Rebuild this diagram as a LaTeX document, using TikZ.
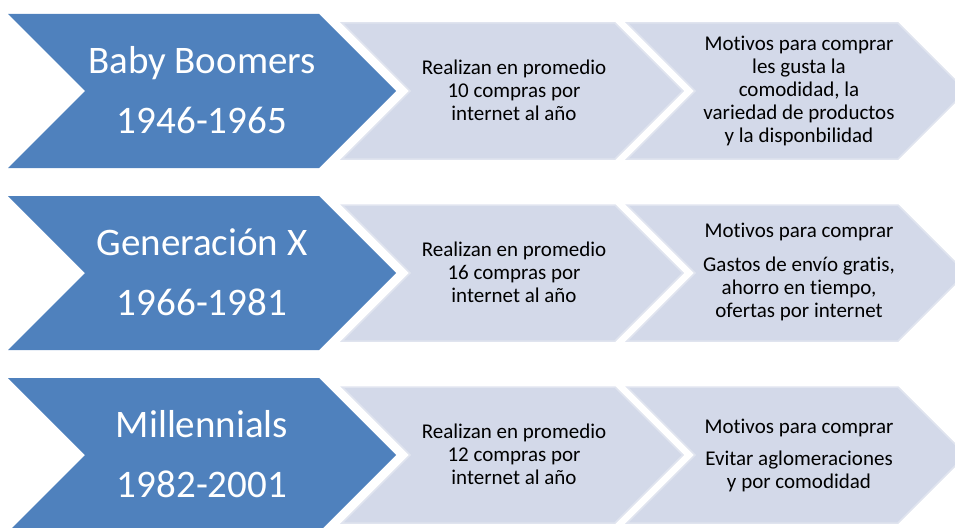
\documentclass[tikz,border=0pt]{standalone}
\usepackage{fontspec}
\setmainfont{Carlito}[Ligatures=NoCommon]
\definecolor{blueA}{HTML}{4F81BD}
\definecolor{lightA}{HTML}{D3D9E9}
\definecolor{lightB}{HTML}{E0E4EF}
\newcommand\drawchev[5]{\path[#5] (#1,#3-#4) -- (#2,#3-#4) -- (#2+#4,#3) -- (#2,#3+#4) -- (#1,#3+#4) -- (#1+#4,#3) -- cycle;}
\tikzset{
  genbox/.style={fill=blueA},
  infobox/.style={fill=lightA, draw=lightB, line width=1.5pt, line join=miter},
  gentext/.style={text=white, align=center, font=\fontsize{39}{60}\selectfont, inner sep=0pt},
  infotext/.style={text=black, align=center, font=\fontsize{21}{23}\selectfont, inner sep=0pt}
}
\begin{document}
\begin{tikzpicture}[x=1pt,y=-1pt]
\useasboundingbox (0,0) rectangle (955,527);
\clip (0,0) rectangle (955,527);
% row 1
\drawchev{8}{319}{91}{77}{genbox}
\drawchev{342}{615}{91}{68}{infobox}
\drawchev{627}{898}{91}{68}{infobox}
\node[gentext] (g1) at (202,90) {Baby Boomers\\1946-1965};
\node[infotext] (a1) at (514,90) {Realizan en promedio\\10 compras por\\internet al año};
\node[infotext] (b1) at (799,91) {Motivos para comprar\\les gusta la\\comodidad, la\\variedad de productos\\y la disponbilidad};
% row 2
\drawchev{8}{319}{273}{77}{genbox}
\drawchev{342}{615}{273}{68}{infobox}
\drawchev{627}{898}{273}{68}{infobox}
\node[gentext] (g2) at (202,272) {Generación X\\1966-1981};
\node[infotext] (a2) at (514,272) {Realizan en promedio\\16 compras por\\internet al año};
\node[infotext] (b2) at (799,272) {Motivos para comprar\\[11pt]Gastos de envío gratis,\\ahorro en tiempo,\\ofertas por internet};
% row 3
\drawchev{8}{319}{455}{77}{genbox}
\drawchev{342}{615}{455}{68}{infobox}
\drawchev{627}{898}{455}{68}{infobox}
\node[gentext] (g3) at (202,454) {Millennials\\1982-2001};
\node[infotext] (a3) at (514,454) {Realizan en promedio\\12 compras por\\internet al año};
\node[infotext] (b3) at (799,455) {Motivos para comprar\\[9pt]Evitar aglomeraciones\\y por comodidad};
\end{tikzpicture}
\end{document}
